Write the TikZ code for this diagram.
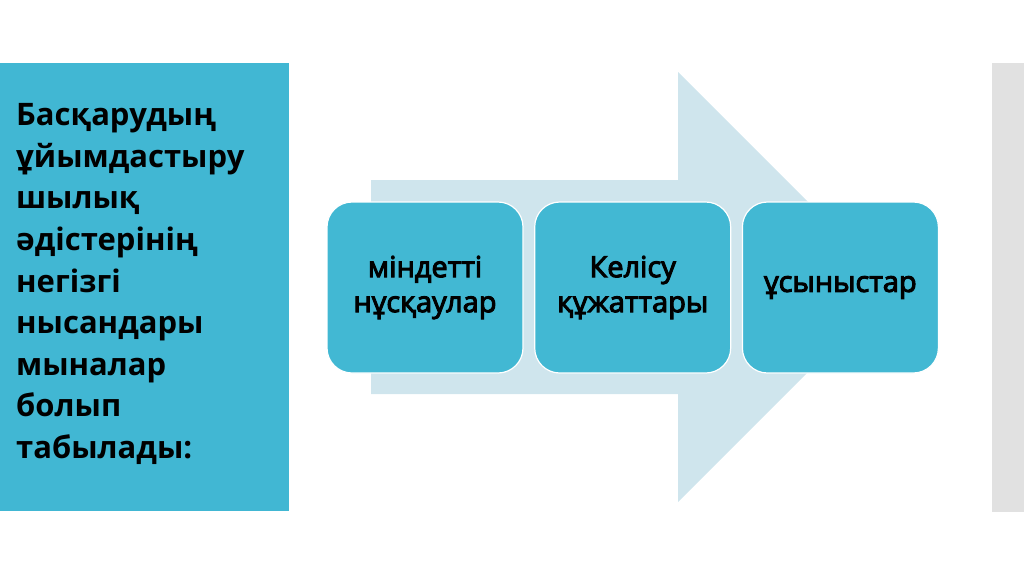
\documentclass[tikz,border=0pt]{standalone}
\usepackage{fontspec}
\setmainfont{Open Sans}
\newfontfamily\semibold[FakeBold=3.5]{Open Sans}
\usetikzlibrary{positioning}
\definecolor{panelteal}{HTML}{41B7D3}
\definecolor{boxteal}{HTML}{42B8D3}
\definecolor{arrowpale}{HTML}{CFE5ED}
\definecolor{sidegrey}{HTML}{E1E1E1}
\begin{document}
\begin{tikzpicture}[x=1pt, y=-1pt,
  node distance=10.5pt,
  every node/.style={font=\semibold\fontsize{29}{35}\selectfont},
  itembox/.style={draw=white, line width=1.2pt, fill=boxteal,
    rounded corners=25pt, minimum width=196pt, minimum height=171pt,
    align=center, inner sep=0pt}]
\useasboundingbox (0,0) rectangle (1024,576);
% side panels
\fill[panelteal] (0,63) rectangle (289,511);
\fill[sidegrey] (992,63) rectangle (1024,512);
% big pale arrow behind the boxes
\fill[arrowpale] (371,180) -- (678,180) -- (678,72) -- (893,287)
  -- (678,502) -- (678,394) -- (371,394) -- cycle;
\node[anchor=west, align=left, inner sep=0pt,
      font=\normalfont\fontsize{31}{41.6}\selectfont\bfseries] (title) at (16,284)
  {Басқарудың\\ұйымдастыру\\шылық\\әдістерінің\\негізгі\\нысандары\\мыналар\\болып\\табылады:};
\node[itembox] (duty) at (425,287.5) {міндетті\\нұсқаулар};
\node[itembox, right=of duty] (agree) {Келісу\\құжаттары};
\node[itembox, right=of agree] (advice) {ұсыныстар};
\end{tikzpicture}
\end{document}
